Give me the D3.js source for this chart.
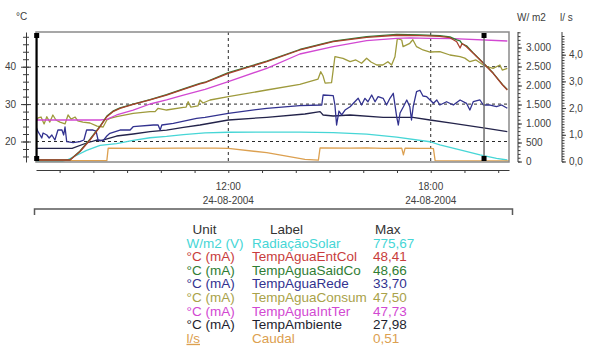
<!DOCTYPE html>
<html><head><meta charset="utf-8">
<script src="https://cdn.jsdelivr.net/npm/d3@7"></script>
<style>
html,body{margin:0;padding:0;background:#fff;}
svg{display:block;font-family:"Liberation Sans",Arial,sans-serif;}
</style></head><body>
<svg id="chart" width="591" height="354"></svg>
<script>
// ---------- DATA (time in decimal hours, 24-08-2004) ----------
const timeDomain = [6.30, 20.32];
const hourTicks = [7,8,9,10,11,12,13,14,15,16,17,18,19,20];
const labelHours = [12, 18];
const labelTimes = ["12:00", "18:00"];
const labelDate = "24-08-2004";
const cursorTime = 19.58;

const tempTickLabels = [20, 30, 40];
const wTickLabels = [0, 500, 1000, 1500, 2000, 2500, 3000];
const qTickLabels = [0, 1, 2, 3, 4];

const radTimes = [6.30, 7.07, 7.22, 7.51, 7.80, 8.20, 8.69, 9.18, 9.68, 10.17, 10.67, 11.31, 12.00, 13.14, 14.12, 15.11, 16.10, 16.99, 17.98, 18.27, 18.87, 19.46, 19.95, 20.27];
const radValues = [0, 0, 40, 165, 295, 425, 470, 555, 625, 660, 710, 755, 770, 775.67, 772, 760, 720, 640, 520, 436, 304, 172, 85, 40];

const entColTimes = [6.30, 7.31, 7.60, 7.90, 8.20, 8.40, 8.58, 8.79, 9.18, 9.68, 10.17, 10.67, 11.16, 11.31, 12.00, 13.14, 14.12, 15.11, 16.10, 16.99, 17.68, 18.27, 18.57, 18.77, 18.87, 18.93, 19.06, 19.26, 19.56, 19.85, 20.13, 20.27];
const entColValues = [15.05, 15.05, 17.27, 20.4, 23.96, 26.63, 27.97, 28.88, 29.9, 31.1, 32.43, 33.96, 35.4, 35.72, 38.24, 41.34, 44.47, 46.68, 47.86, 48.41, 48.3, 48.1, 47.75, 46.68, 45.0, 46.2, 45.35, 43.58, 40.91, 38.24, 35.11, 33.77];

const saidCoTimes = entColTimes;
const saidCoValues = [15.1, 15.1, 17.4, 20.6, 24.1, 26.8, 28.1, 29.0, 30.0, 31.2, 32.55, 34.1, 35.55, 35.85, 38.4, 41.5, 44.6, 46.85, 48.05, 48.66, 48.5, 48.3, 47.95, 47.2, 46.9, 46.1, 45.6, 43.7, 41.0, 38.3, 35.2, 33.9];

const redeTimes = [6.30, 6.36, 6.42, 6.47, 6.51, 6.62, 6.69, 6.77, 6.86, 6.95, 7.07, 7.12, 7.16, 7.21, 7.40, 7.60, 7.72, 7.80, 7.99, 8.08, 8.14, 8.29, 8.40, 8.49, 8.79, 9.09, 9.18, 9.78, 9.92, 9.98, 10.03, 10.37, 11.06, 11.31, 12.00, 13.14, 14.12, 14.77, 14.81, 15.11, 15.16, 15.21, 15.28, 15.36, 15.46, 15.61, 15.75, 15.85, 15.95, 16.05, 16.14, 16.25, 16.35, 16.44, 16.59, 16.69, 16.79, 16.89, 16.99, 17.04, 17.09, 17.19, 17.29, 17.38, 17.43, 17.48, 17.58, 17.68, 17.77, 17.88, 17.98, 18.08, 18.18, 18.27, 18.47, 18.67, 18.87, 19.06, 19.16, 19.26, 19.46, 19.56, 19.76, 19.95, 20.10, 20.27];
const redeValues = [23.96, 22.62, 21.74, 20.94, 22.27, 21.74, 20.94, 21.74, 20.4, 23.07, 23.07, 21.74, 23.88, 19.95, 19.68, 19.95, 20.4, 23.07, 23.07, 22.8, 20.4, 20.21, 21.47, 22.19, 23.07, 23.07, 23.96, 24.41, 24.41, 23.07, 24.41, 24.87, 26.2, 26.47, 27.54, 28.88, 29.6, 29.76, 32.43, 32.25, 29.76, 24.41, 28.15, 27.09, 28.42, 29.3, 30.64, 31.55, 29.76, 31.55, 30.64, 32.43, 30.64, 31.98, 31.55, 29.76, 31.55, 32.89, 26.63, 24.41, 27.62, 29.3, 31.1, 29.3, 25.75, 29.3, 33.32, 33.70, 32.17, 31.98, 31.1, 30.21, 31.1, 29.76, 30.64, 29.76, 31.1, 30.21, 28.42, 30.64, 31.1, 29.76, 29.76, 29.3, 29.76, 28.88];

const consumTimes = [6.30, 6.36, 6.45, 6.54, 6.62, 6.71, 6.80, 6.89, 7.01, 7.16, 7.25, 7.34, 7.46, 7.54, 7.69, 7.90, 8.11, 8.29, 8.40, 8.49, 8.69, 9.18, 9.68, 9.83, 9.92, 10.17, 10.67, 10.75, 10.81, 10.89, 11.10, 11.16, 11.25, 11.46, 12.00, 13.14, 14.12, 14.66, 14.74, 14.81, 14.87, 15.06, 15.16, 15.40, 15.61, 15.78, 15.95, 16.10, 16.23, 16.40, 16.58, 16.73, 16.84, 16.94, 17.01, 17.14, 17.18, 17.38, 17.47, 17.58, 17.77, 17.98, 18.27, 18.57, 18.87, 19.01, 19.16, 19.34, 19.56, 19.66, 19.85, 20.05, 20.12, 20.27];
const consumValues = [25.2, 26.3, 26.55, 24.7, 26.63, 25.2, 27.09, 25.75, 25.2, 24.7, 27.09, 26.0, 26.55, 25.5, 25.2, 24.95, 24.1, 23.88, 25.75, 26.2, 26.63, 27.54, 27.97, 28.0, 28.88, 28.42, 29.14, 29.2, 30.64, 29.2, 29.5, 31.1, 30.3, 31.1, 31.98, 33.77, 35.3, 36.7, 38.66, 37.5, 35.6, 35.72, 42.67, 42.25, 41.34, 41.8, 40.91, 42.25, 41.26, 40.45, 40.45, 41.34, 40.45, 42.67, 47.5, 47.14, 45.35, 46.26, 47.2, 45.35, 44.47, 43.93, 44.01, 43.13, 42.67, 42.3, 41.34, 41.8, 40.45, 40.0, 39.57, 40.45, 39.1, 39.57];

const intTerTimes = [6.30, 8.20, 8.40, 8.69, 9.18, 9.68, 10.17, 10.67, 11.31, 12.00, 13.14, 14.12, 15.11, 16.10, 16.99, 17.38, 17.98, 18.67, 20.27];
const intTerValues = [25.75, 25.75, 25.94, 27.09, 28.42, 30.03, 31.1, 32.43, 33.96, 35.99, 39.57, 43.4, 45.35, 46.95, 47.6, 47.73, 47.59, 47.5, 46.87];

const ambTimes = [6.30, 7.37, 7.80, 8.10, 8.20, 8.69, 9.18, 9.68, 10.17, 10.67, 11.16, 12.00, 13.14, 14.27, 14.72, 14.81, 15.11, 15.61, 16.59, 17.47, 17.98, 18.67, 19.66, 20.27];
const ambValues = [18.18, 18.18, 19.6, 20.4, 20.2, 21.47, 22.01, 22.62, 23.07, 23.8, 24.41, 25.75, 26.47, 27.35, 27.98, 27.09, 26.82, 27.09, 26.47, 26.47, 25.75, 24.87, 23.53, 22.62];

const caudalTimes = [6.30, 8.40, 8.44, 9.50, 10.50, 11.16, 11.61, 12.00, 13.14, 14.27, 14.67, 14.72, 15.60, 16.10, 16.60, 17.14, 17.19, 17.24, 17.60, 17.98, 18.08, 18.13, 20.32];
const caudalValues = [0.03, 0.03, 0.50, 0.49, 0.50, 0.50, 0.50, 0.49, 0.33, 0.08, 0.05, 0.51, 0.50, 0.51, 0.49, 0.50, 0.25, 0.50, 0.49, 0.49, 0.48, 0.03, 0.02];

const legendUnits  = ["W/m2 (V)", "°C (mA)", "°C (mA)", "°C (mA)", "°C (mA)", "°C (mA)", "°C (mA)", "l/s"];
const legendLabels = ["RadiaçãoSolar", "TempAguaEntCol", "TempAguaSaidCo", "TempAguaRede", "TempAguaConsum", "TempAguaIntTer", "TempAmbiente", "Caudal"];
const legendMax    = ["775,67", "48,41", "48,66", "33,70", "47,50", "47,73", "27,98", "0,51"];
const legendColors = ["#46d6d6", "#c83c3c", "#2f7d34", "#32328f", "#a9a24a", "#d248d2", "#1e1e2e", "#dca050"];

// ---------- CHART ----------
const svg = d3.select("#chart");
const L = 36, R = 509, T = 32, B = 162;

const x  = d3.scaleLinear().domain(timeDomain).range([L, R]);
const yT = d3.scaleLinear().domain([14.52, 49.28]).range([B, T]);
const yW = d3.scaleLinear().domain([-13, 3408]).range([B, T]);
const yQ = d3.scaleLinear().domain([-0.019, 4.85]).range([B, T]);

const axisColor = "#3a3a3a";
const txtColor = "#404040";

// gridlines
const grid = svg.append("g").attr("stroke", "#2a2a2a").attr("stroke-dasharray", "3,3").attr("stroke-width", 1);
tempTickLabels.forEach(v => grid.append("line").attr("x1", L).attr("x2", R).attr("y1", yT(v)).attr("y2", yT(v)));
labelHours.forEach(h => grid.append("line").attr("x1", x(h)).attr("x2", x(h)).attr("y1", T).attr("y2", B));

// series
const pairs = (ts, vs) => ts.map((t, i) => [t, vs[i]]);
const series = [
  {t: radTimes, v: radValues, s: yW, c: legendColors[0]},
  {t: caudalTimes, v: caudalValues, s: yQ, c: legendColors[7]},
  {t: ambTimes, v: ambValues, s: yT, c: "#23234a"},
  {t: redeTimes, v: redeValues, s: yT, c: legendColors[3]},
  {t: consumTimes, v: consumValues, s: yT, c: "#9e9a3c"},
  {t: intTerTimes, v: intTerValues, s: yT, c: legendColors[5]},
  {t: saidCoTimes, v: saidCoValues, s: yT, c: legendColors[2]},
  {t: entColTimes, v: entColValues, s: yT, c: "#a8402c"}
];
svg.append("clipPath").attr("id", "clip").append("rect").attr("x", L).attr("y", T).attr("width", R - L).attr("height", B - T);
const lines = svg.append("g").attr("clip-path", "url(#clip)");
series.forEach(sr => {
  const line = d3.line().x(d => x(d[0])).y(d => sr.s(d[1]));
  lines.append("path").attr("d", line(pairs(sr.t, sr.v))).attr("fill", "none")
    .attr("stroke", sr.c).attr("stroke-width", 1.3).attr("stroke-linejoin", "round");
});

// frame
svg.append("rect").attr("x", L).attr("y", T).attr("width", R - L).attr("height", B - T)
  .attr("fill", "none").attr("stroke", "#8a8a8a").attr("stroke-width", 1.5);

// cursors
function cursor(t, color, w) {
  const cx = x(t);
  svg.append("line").attr("x1", cx).attr("x2", cx).attr("y1", T + 2).attr("y2", B - 3).attr("stroke", color).attr("stroke-width", w);
  svg.append("rect").attr("x", cx - 2.5).attr("y", T + 1).attr("width", 5).attr("height", 5).attr("fill", "#000");
  svg.append("rect").attr("x", cx - 2.5).attr("y", B - 6).attr("width", 5).attr("height", 5).attr("fill", "#000");
}
cursor(timeDomain[0] + 0.02, "#000", 2);
cursor(cursorTime, "#6e6e6e", 1.5);

// left temperature axis
const gL = svg.append("g").attr("transform", "translate(26,0)");
gL.call(d3.axisLeft(yT).tickValues(d3.range(16, 50, 2)).tickSize(3).tickSizeOuter(0).tickFormat(""));
gL.selectAll(".tick line").attr("x1", 3);
const gL2 = svg.append("g").attr("transform", "translate(26,0)");
gL2.call(d3.axisLeft(yT).tickValues(tempTickLabels).tickSize(5).tickPadding(5).tickFormat(d3.format("d")));
gL2.selectAll(".tick line").attr("x1", 5);
gL2.select(".domain").remove();

// W/m2 axis
const fmtW = d => d >= 1000 ? d3.format(",")(d).replace(",", ".") : String(d);
const gW = svg.append("g").attr("transform", "translate(518,0)");
gW.call(d3.axisRight(yW).tickValues(d3.range(0, 3401, 100)).tickSize(2.5).tickSizeOuter(0).tickFormat(""));
gW.select(".domain").attr("d", `M0,${T}V${B}`);
const gW2 = svg.append("g").attr("transform", "translate(518,0)");
gW2.call(d3.axisRight(yW).tickValues(wTickLabels).tickSize(4).tickPadding(4).tickFormat(fmtW));
gW2.select(".domain").remove();

// l/s axis
const fmtQ = d => d3.format(".1f")(d).replace(".", ",");
const gQ = svg.append("g").attr("transform", "translate(562,0)");
gQ.call(d3.axisRight(yQ).tickValues(d3.range(0, 48).map(i => i / 10)).tickSize(2.5).tickSizeOuter(0).tickFormat(""));
gQ.select(".domain").attr("d", `M0,${T}V${B}`);
const gQ2 = svg.append("g").attr("transform", "translate(562,0)");
gQ2.call(d3.axisRight(yQ).tickValues(qTickLabels).tickSize(4).tickPadding(3).tickFormat(fmtQ));
gQ2.select(".domain").remove();

// time axis
const gX = svg.append("g").attr("transform", "translate(0,170)");
gX.call(d3.axisBottom(x).tickValues(hourTicks).tickSize(3).tickSizeOuter(0).tickFormat(""));

[gL, gL2, gW, gW2, gQ, gQ2, gX].forEach(g => {
  g.selectAll("path.domain").attr("stroke", axisColor);
  g.selectAll(".tick line").attr("stroke", axisColor);
  g.selectAll(".tick text").attr("fill", txtColor).style("font-size", "10px").style("font-family", '"Liberation Sans",Arial,sans-serif');
});

labelHours.forEach((h, i) => {
  svg.append("text").attr("x", x(h)).attr("y", 190).attr("text-anchor", "middle")
    .attr("font-size", 10).attr("fill", txtColor).text(labelTimes[i]);
  svg.append("text").attr("x", x(h)).attr("y", 204).attr("text-anchor", "middle")
    .attr("font-size", 10).attr("fill", txtColor).text(labelDate);
});

// axis titles
svg.append("text").attr("x", 16).attr("y", 20).attr("font-size", 10).attr("fill", txtColor).text("°C");
svg.append("text").attr("x", 517).attr("y", 21).attr("font-size", 10).attr("fill", txtColor).text("W/ m2");
svg.append("text").attr("x", 560).attr("y", 21).attr("font-size", 10).attr("fill", txtColor).text("l/ s");

// bracket
svg.append("path").attr("d", "M34.5,215V209H512.5V215").attr("fill", "none").attr("stroke", "#5a5a5a").attr("stroke-width", 1.5);

// legend
const lg = svg.append("g").style("font-size", "13.5px");
const hdrY = 234, rowH = 13.6;
lg.append("text").attr("x", 192.5).attr("y", hdrY).attr("fill", "#333").text("Unit");
lg.append("text").attr("x", 270).attr("y", hdrY).attr("fill", "#333").text("Label");
lg.append("text").attr("x", 375).attr("y", hdrY).attr("fill", "#333").text("Max");
legendLabels.forEach((lab, i) => {
  const yy = hdrY + rowH * (i + 1);
  const c = legendColors[i];
  const u = lg.append("text").attr("x", 186.5).attr("y", yy).attr("fill", c).text(legendUnits[i]);
  if (legendUnits[i] === "l/s") u.attr("text-decoration", "underline");
  lg.append("text").attr("x", 252).attr("y", yy).attr("fill", c).text(lab);
  lg.append("text").attr("x", 373).attr("y", yy).attr("fill", c).text(legendMax[i]);
});
</script>
</body></html>
